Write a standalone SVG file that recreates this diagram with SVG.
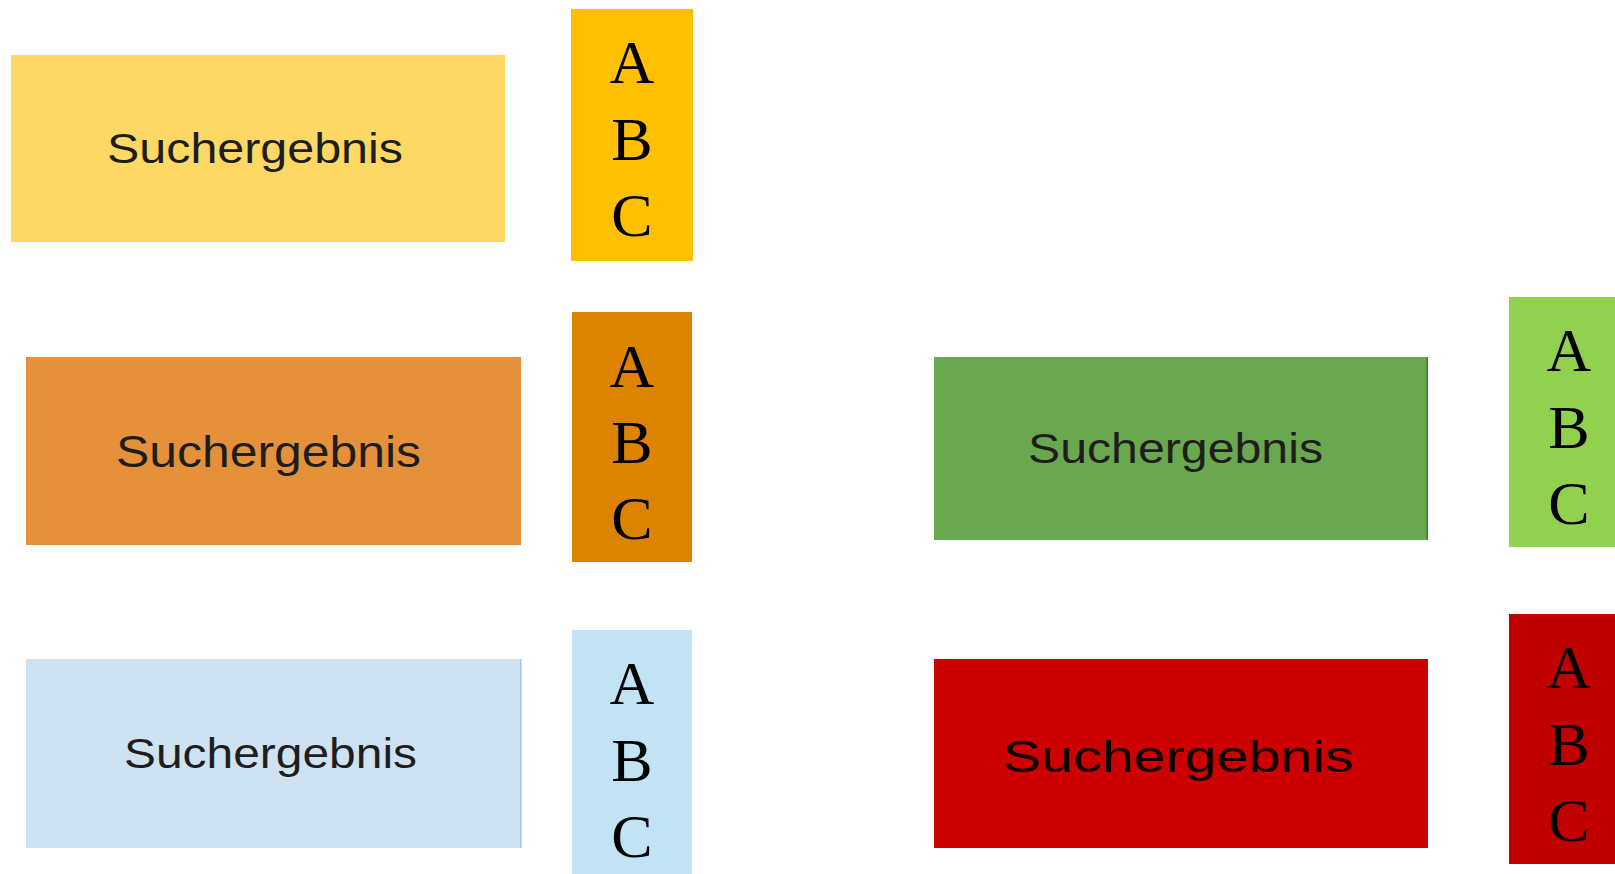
<svg xmlns="http://www.w3.org/2000/svg" width="1615" height="874" viewBox="0 0 1615 874">
<style>
.lbl{font-family:"Liberation Sans",Arial,sans-serif;font-size:42px;fill:#1e1e1e}
.abc{font-family:"Liberation Serif","Times New Roman",serif;font-size:62px;fill:#000;text-anchor:middle}
</style>
<rect width="1615" height="874" fill="#fff"/>
<g id="yellow-result">
<rect x="11" y="55" width="494" height="187" fill="#FDD865"/>
<text class="lbl" x="107" y="163" textLength="296" lengthAdjust="spacingAndGlyphs">Suchergebnis</text>
</g>
<g id="yellow-abc">
<rect x="571" y="9" width="122" height="252" fill="#FEC000"/>
<text class="abc" x="632" y="83">A</text>
<text class="abc" x="632" y="160">B</text>
<text class="abc" x="632" y="236">C</text>
</g>
<g id="orange-result">
<rect x="26" y="357" width="495" height="188" fill="#E5903A"/>
<text class="lbl" x="116" y="467" textLength="305" lengthAdjust="spacingAndGlyphs" style="font-size:44px">Suchergebnis</text>
</g>
<g id="orange-abc">
<rect x="572" y="312" width="120" height="250" fill="#DC8400"/>
<text class="abc" x="632" y="387">A</text>
<text class="abc" x="632" y="463">B</text>
<text class="abc" x="632" y="539">C</text>
</g>
<g id="blue-result">
<rect x="26" y="659" width="495" height="189" fill="#CFE2F2"/>
<rect x="520" y="659" width="1.5" height="189" fill="#A9C3DD"/>
<text class="lbl" x="124" y="768" textLength="293" lengthAdjust="spacingAndGlyphs">Suchergebnis</text>
</g>
<g id="blue-abc">
<rect x="572" y="630" width="120" height="244" fill="#C2E3F3"/>
<text class="abc" x="632" y="704">A</text>
<text class="abc" x="632" y="781">B</text>
<text class="abc" x="632" y="857">C</text>
</g>
<g id="green-result">
<rect x="934" y="357" width="494" height="183" fill="#6AA84F"/>
<rect x="1426.5" y="357" width="1.5" height="183" fill="#3F7A2E"/>
<text class="lbl" x="1028" y="463" textLength="295" lengthAdjust="spacingAndGlyphs">Suchergebnis</text>
</g>
<g id="green-abc">
<rect x="1509" y="297" width="106" height="250" fill="#92D050"/>
<text class="abc" x="1569" y="371">A</text>
<text class="abc" x="1569" y="448">B</text>
<text class="abc" x="1569" y="524">C</text>
</g>
<g id="red-result">
<rect x="934" y="659" width="494" height="189" fill="#CC0000"/>
<text class="lbl" x="1003" y="772" textLength="351" lengthAdjust="spacingAndGlyphs" style="font-size:44px;fill:#110000">Suchergebnis</text>
</g>
<g id="red-abc">
<rect x="1509" y="614" width="106" height="250" fill="#C00000"/>
<text class="abc" x="1569" y="688">A</text>
<text class="abc" x="1569" y="765">B</text>
<text class="abc" x="1569" y="841">C</text>
</g>
<g id="connectors"></g>
</svg>
